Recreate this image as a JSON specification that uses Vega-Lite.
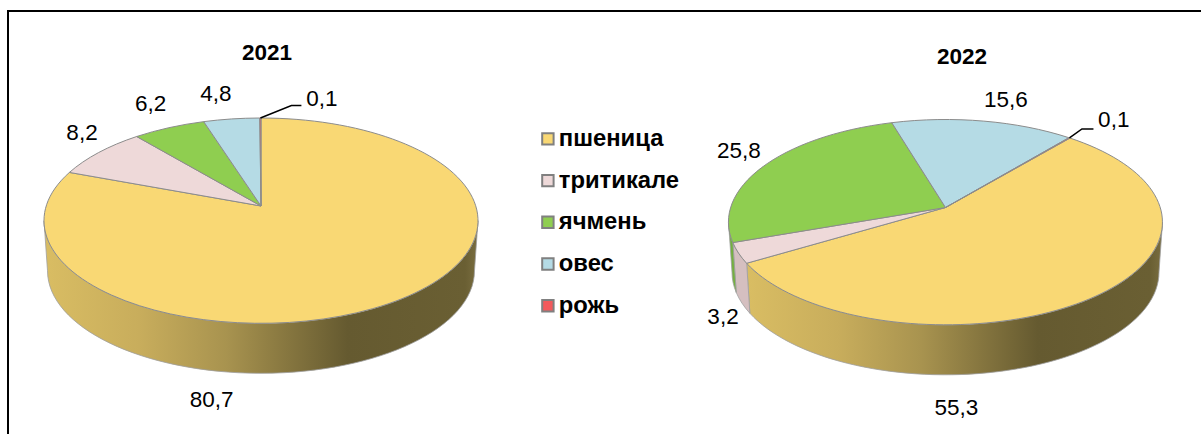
{
"$schema":"https://vega.github.io/schema/vega-lite/v6.json",
"width":1201,"height":434,"padding":0,"autosize":{"type":"none"},
"background":"white",
"config":{"view":{"stroke":null},"font":"Liberation Sans"},
"params":[
{"name":"pA","value":214.8},{"name":"pB","value":100.57},{"name":"pK","value":0.1428},
{"name":"pRx","value":217},{"name":"pRy","value":102.65},{"name":"pOy","value":14.65},
{"name":"pRxb","value":213.5},{"name":"pRyb","value":102.65},{"name":"pDy","value":50}
],
"data":{"values":[
{"year":2021,"crop":"пшеница","order":1,"value":80.7},
{"year":2021,"crop":"тритикале","order":2,"value":8.2},
{"year":2021,"crop":"ячмень","order":3,"value":6.2},
{"year":2021,"crop":"овес","order":4,"value":4.8},
{"year":2021,"crop":"рожь","order":5,"value":0.1},
{"year":2022,"crop":"пшеница","order":1,"value":55.3},
{"year":2022,"crop":"тритикале","order":2,"value":3.2},
{"year":2022,"crop":"ячмень","order":3,"value":25.8},
{"year":2022,"crop":"овес","order":4,"value":15.6},
{"year":2022,"crop":"рожь","order":5,"value":0.1}
]},
"transform":[
{"stack":"value","groupby":["year"],"sort":[{"field":"order","order":"ascending"}],"as":["v0","v1"]},
{"calculate":"datum.year==2021?261:945.5","as":"cx"},
{"calculate":"datum.year==2021?206:207.5","as":"cy"},
{"calculate":"datum.year==2021?0:40","as":"rot"},
{"calculate":"(datum.rot+datum.v0*3.6)*PI/180","as":"t0"},
{"calculate":"(datum.rot+datum.v1*3.6)*PI/180","as":"t1"},
{"calculate":"(datum.t0+datum.t1)/2","as":"tm"},
{"calculate":"pA*sin(datum.t0)/(1+pK*cos(datum.t0))","as":"X0"},
{"calculate":"-pB*cos(datum.t0)/(1+pK*cos(datum.t0))","as":"Y0"},
{"calculate":"pA*sin(datum.t1)/(1+pK*cos(datum.t1))","as":"X1"},
{"calculate":"-pB*cos(datum.t1)/(1+pK*cos(datum.t1))","as":"Y1"},
{"calculate":"pA*sin(datum.tm)/(1+pK*cos(datum.tm))","as":"Xm"},
{"calculate":"-pB*cos(datum.tm)/(1+pK*cos(datum.tm))","as":"Ym"},
{"calculate":"atan2(datum.X0/pRx,-(datum.Y0-pOy)/pRy)","as":"p0raw"},
{"calculate":"datum.p0raw<0?datum.p0raw+2*PI:datum.p0raw","as":"phi0"},
{"calculate":"atan2(datum.X1/pRx,-(datum.Y1-pOy)/pRy)-datum.phi0","as":"d0"},
{"calculate":"datum.d0<0?datum.d0+2*PI:datum.d0","as":"dphi"},
{"calculate":"'M0 0L'+round(datum.X0*100)/100+' '+round(datum.Y0*100)/100+'A'+pRx+' '+pRy+' 0 '+(datum.dphi>PI?1:0)+' 1 '+round(datum.X1*100)/100+' '+round(datum.Y1*100)/100+'Z'","as":"slicePath"},
{"calculate":"max(datum.phi0,PI/2)","as":"wa"},
{"calculate":"min(datum.phi0+datum.dphi,3*PI/2)","as":"wb"},
{"calculate":"'M'+round(pRx*sin(datum.wa)*100)/100+' '+round((pOy-pRy*cos(datum.wa))*100)/100+'A'+pRx+' '+pRy+' 0 0 1 '+round(pRx*sin(datum.wb)*100)/100+' '+round((pOy-pRy*cos(datum.wb))*100)/100+'L'+round(pRxb*sin(datum.wb)*100)/100+' '+round((pOy+pDy-pRyb*cos(datum.wb))*100)/100+'A'+pRxb+' '+pRyb+' 0 0 0 '+round(pRxb*sin(datum.wa)*100)/100+' '+round((pOy+pDy-pRyb*cos(datum.wa))*100)/100+'Z'","as":"wallPath"},
{"calculate":"'M'+round(datum.Xm*100)/100+' '+round(datum.Ym*100)/100+'L'+(round(datum.Xm*100)/100+(datum.year==2021?31:12.5))+' '+(round(datum.Ym*100)/100+(datum.year==2021?-12.5:-9))+'L'+(round(datum.Xm*100)/100+(datum.year==2021?41:24))+' '+(round(datum.Ym*100)/100+(datum.year==2021?-12.5:-9))","as":"leaderPath"},
{"calculate":"datum.year+datum.crop","as":"key"},
{"calculate":"{'2021пшеница':-188,'2021тритикале':-17,'2021ячмень':-18.5,'2021овес':-15.6,'2021рожь':61.4,'2022пшеница':-145.6,'2022тритикале':-15.5,'2022ячмень':-27,'2022овес':22.7,'2022рожь':44.3}[datum.key]","as":"ddx"},
{"calculate":"{'2021пшеница':100,'2021тритикале':-19,'2021ячмень':-23.7,'2021овес':-25,'2021рожь':-19.3,'2022пшеница':114.3,'2022тритикале':63.7,'2022ячмень':-13.6,'2022овес':-21,'2022рожь':-17.9}[datum.key]","as":"ddy"},
{"calculate":"datum.cx+datum.Xm+datum.ddx","as":"lx"},
{"calculate":"datum.cy+datum.Ym+datum.ddy","as":"ly"},
{"calculate":"replace(format(datum.value,'.1f'),'.',',')","as":"label"},
{"calculate":"datum.year==2021?267:962","as":"tx"},
{"calculate":"datum.year==2021?53:57","as":"ty"}
],
"encoding":{
"x":{"field":"cx","type":"quantitative","axis":null,"scale":{"domain":[0,1201],"nice":false,"zero":false}},
"y":{"field":"cy","type":"quantitative","axis":null,"scale":{"domain":[0,434],"reverse":true,"nice":false,"zero":false}}
},
"layer":[
{"transform":[{"filter":"datum.crop=='пшеница'"}],
"mark":{"type":"point","filled":true,"size":4,"opacity":1,"stroke":"#a0a0a0","strokeWidth":0.8,
"fill":{"gradient":"linear","x1":0,"y1":0,"x2":1,"y2":0,"stops":[
{"offset":0,"color":"#d9bd63"},{"offset":0.22,"color":"#c8ad5c"},{"offset":0.42,"color":"#a8934f"},{"offset":0.7,"color":"#655a30"},{"offset":0.97,"color":"#6a5f33"},{"offset":1,"color":"#7a6e40"}]}},
"encoding":{"shape":{"field":"wallPath","type":"nominal","scale":null}}},
{"transform":[{"filter":"datum.crop!='пшеница' && datum.wa<datum.wb"}],
"mark":{"type":"point","filled":true,"size":4,"opacity":1,"stroke":"#a0a0a0","strokeWidth":0.8},
"encoding":{"shape":{"field":"wallPath","type":"nominal","scale":null},
"fill":{"field":"crop","type":"nominal","legend":null,"scale":{"domain":["тритикале","ячмень","овес","рожь"],"range":["#d5bfc0","#74b040","#8fb5c0","#c04040"]}}}},
{"mark":{"type":"point","filled":true,"size":4,"opacity":1,"stroke":"#8c8c8c","strokeWidth":1},
"encoding":{"shape":{"field":"slicePath","type":"nominal","scale":null},
"color":{"field":"crop","type":"nominal","title":null,
"scale":{"domain":["пшеница","тритикале","ячмень","овес","рожь"],"range":["#f9d874","#eed9d9","#8fce50","#b5dbe5","#f25a5c"]},
"legend":{"orient":"none","legendX":536,"legendY":127,"padding":0,"symbolType":"square","symbolSize":130,"symbolStrokeColor":"#808080","symbolStrokeWidth":2,"labelFontSize":23.8,"labelFontWeight":"bold","labelFont":"Liberation Sans","labelColor":"black","labelOffset":-1,"rowPadding":16.7,"labelLimit":300}}}},
{"transform":[{"filter":"datum.crop=='рожь'"}],
"mark":{"type":"point","filled":false,"size":4,"opacity":1,"stroke":"black","strokeWidth":1.5},
"encoding":{"shape":{"field":"leaderPath","type":"nominal","scale":null}}},
{"mark":{"type":"text","font":"Liberation Sans","fontSize":22.5,"color":"black","align":"center","baseline":"middle"},
"encoding":{
"x":{"field":"lx","type":"quantitative"},
"y":{"field":"ly","type":"quantitative"},
"text":{"field":"label","type":"nominal"}}},
{"transform":[{"filter":"datum.crop=='пшеница'"}],
"mark":{"type":"text","font":"Liberation Sans","fontSize":22.5,"fontWeight":"bold","color":"black","align":"center","baseline":"middle"},
"encoding":{
"x":{"field":"tx","type":"quantitative"},
"y":{"field":"ty","type":"quantitative"},
"text":{"field":"year","type":"nominal"}}},
{"mark":{"type":"rule","color":"black","strokeWidth":2},
"encoding":{"x":{"datum":8},"y":{"datum":10},"y2":{"datum":434}}},
{"mark":{"type":"rule","color":"black","strokeWidth":2},
"encoding":{"x":{"datum":7},"x2":{"datum":1201},"y":{"datum":11}}}
]
}
